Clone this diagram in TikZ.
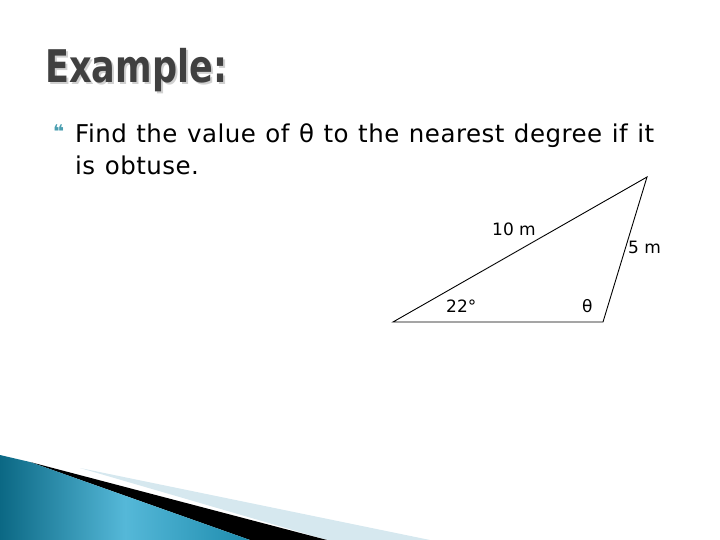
\documentclass[tikz,border=0pt]{standalone}
\usepackage{fontspec}
\setmainfont{DejaVu Sans}
\newfontfamily\bodyfont[LetterSpace=2,WordSpace=1.15]{DejaVu Sans}
\definecolor{titlegray}{HTML}{404040}
\definecolor{shadowgray}{HTML}{D0D0D0}
\definecolor{bullteal}{HTML}{4A9EB0}
\definecolor{lightstripe}{HTML}{D6E8EF}
\definecolor{bluedark}{HTML}{0B6884}
\definecolor{bluelight}{HTML}{55B8D8}
\definecolor{bluemid}{HTML}{1E8CAE}
\newcommand{\titletext}{\scalebox{0.78}[1]{\fontsize{45}{50}\selectfont\bfseries Example:}}
\begin{document}
\begin{tikzpicture}[x=1pt,y=-1pt,
  lbl/.style={inner sep=0pt,anchor=base west,font=\fontsize{17}{20}\selectfont},
  body/.style={inner sep=0pt,anchor=base west,font=\fontsize{24.5}{30}\bodyfont},
  tri/.style={line width=0.9pt,black}]
\useasboundingbox (0,0) rectangle (720,540);
% bottom decoration
\fill[lightstripe] (80,468) -- (430,540) -- (327,540) -- cycle;
\fill[black] (30,462) -- (327,540) -- (250,540) -- cycle;
\shade[left color=bluedark, right color=bluemid, middle color=bluelight] (0,455) -- (30,462) -- (250,540) -- (0,540) -- cycle;
% title with shadow
\node (title) [inner sep=0pt,anchor=base west,text=titlegray] at (45,83)
  {\rlap{\kern2pt\raisebox{-2pt}{\color{shadowgray}\titletext}}\titletext};
% bullet
\node (bul) [inner sep=0pt,anchor=base west,text=bullteal,font=\fontsize{19}{20}\selectfont\bfseries] at (53,139) {❝};
% body
\node (l1) [body] at (75,143) {Find the value of θ to the nearest degree if it};
\node (l2) [body] at (75,175) {is obtuse.};
% triangle
\coordinate (A) at (393,322);
\coordinate (B) at (603,322);
\coordinate (C) at (647,177);
\draw[tri] (A) -- (B) -- (C) -- cycle;
\node (t10) [lbl] at (492,236) {10 m};
\node (t5) [lbl] at (628,254) {5 m};
\node (t22) [lbl] at (446,312) {22°};
\node (tth) [lbl] at (582,312) {θ};
\end{tikzpicture}
\end{document}
